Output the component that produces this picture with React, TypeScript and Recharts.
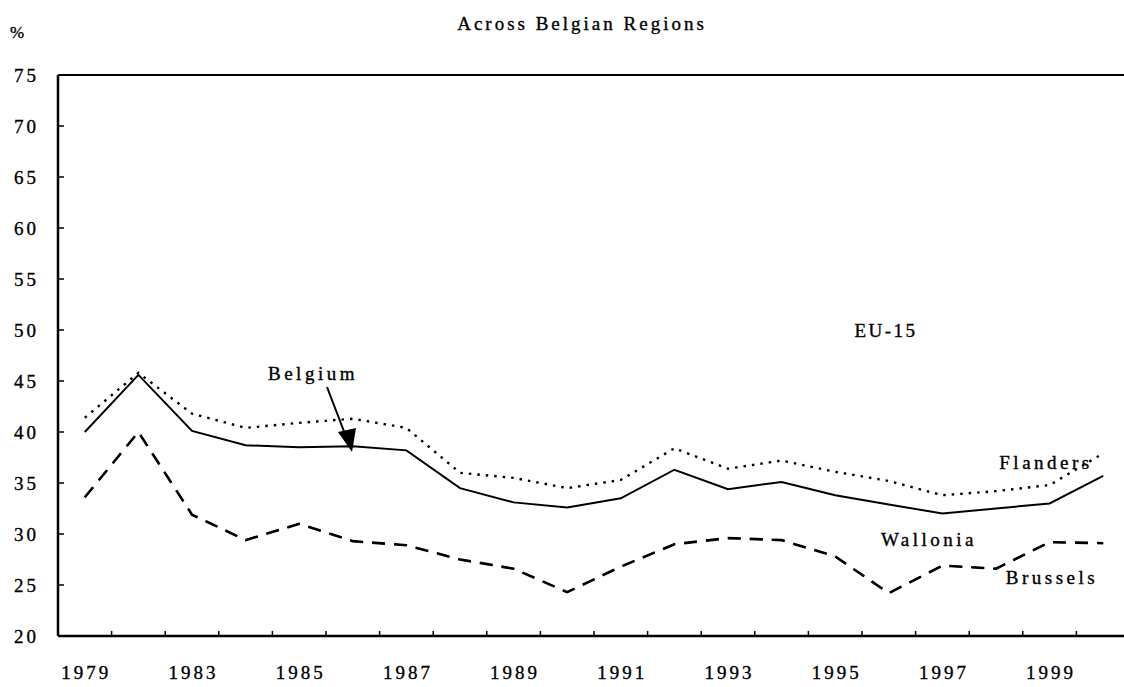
import React from 'react';
import { LineChart, Line, XAxis, YAxis, ReferenceLine } from 'recharts';

const years = ['1979', '1981', '1983', '1984', '1985', '1986', '1987', '1988', '1989', '1990', '1991', '1992', '1993', '1994', '1995', '1996', '1997', '1998', '1999', '2000'];
const xTickLabels = ['1979', '1983', '1985', '1987', '1989', '1991', '1993', '1995', '1997', '1999'];
const yTicks = [20, 25, 30, 35, 40, 45, 50, 55, 60, 65, 70, 75];

const belgium = [40.0, 45.6, 40.1, 38.7, 38.5, 38.6, 38.2, 34.5, 33.1, 32.6, 33.5, 36.3, 34.4, 35.1, 33.8, 32.9, 32.0, 32.5, 33.0, 35.7];
const flanders = [41.4, 45.8, 41.8, 40.4, 40.9, 41.3, 40.4, 36.0, 35.5, 34.5, 35.3, 38.4, 36.4, 37.2, 36.1, 35.2, 33.8, 34.2, 34.8, 37.9];
const wallonia = [33.6, 40.0, 31.9, 29.4, 31.0, 29.3, 28.9, 27.5, 26.6, 24.3, 26.8, 29.0, 29.6, 29.4, 27.8, 24.2, 26.9, 26.6, 29.2, 29.1];
const brussels = [33.6, 40.0, 31.9, 29.4, 31.0, 29.3, 28.9, 27.5, 26.6, 24.3, 26.8, 29.0, 29.6, 29.4, 27.8, 24.2, 26.9, 26.6, 29.2, 29.1];

const data = years.map((y, i) => ({
  pos: i + 0.5,
  year: y,
  belgium: belgium[i],
  flanders: flanders[i],
  wallonia: wallonia[i],
  brussels: brussels[i],
}));

const FONT = '"Liberation Serif", "Times New Roman", serif';
const CHART_W = 1160;
const CHART_H = 687;
const Y_AXIS_W = 58;
const X_AXIS_H = 51;
const MARGIN = { top: 75, right: 30, bottom: 0, left: 0 };
const PLOT_W = CHART_W - MARGIN.left - MARGIN.right - Y_AXIS_W;
const UNIT = PLOT_W / years.length;
const INK = { fill: '#000', stroke: '#000', strokeWidth: 0.35 } as const;

const XTick = (props: any) => {
  const { x, y, payload } = props;
  const idx = Math.round(payload.value);
  const label = years[idx];
  const show = idx < years.length && xTickLabels.includes(label);
  return (
    <g>
      <line x1={x} y1={y} x2={x} y2={y - 5} stroke="#000" strokeWidth={1.5} />
      {show && (
        <text x={x + UNIT / 2 + 1.5} y={y + 43} textAnchor="middle" fontFamily={FONT} fontSize={19} letterSpacing={3} {...INK}>
          {label}
        </text>
      )}
    </g>
  );
};

const YTick = (props: any) => {
  const { x, y, payload } = props;
  return (
    <g>
      <line x1={x + 22} y1={y} x2={x + 28} y2={y} stroke="#000" strokeWidth={1.5} />
      <text x={x + 3} y={y + 6.5} textAnchor="end" fontFamily={FONT} fontSize={19} letterSpacing={3} {...INK}>
        {payload.value}
      </text>
    </g>
  );
};

export default function App() {
  const textStyle = { fontFamily: FONT, ...INK } as const;
  return (
    <div style={{ position: 'absolute', left: 0, top: 0, width: 1124, height: 687, overflow: 'hidden', background: '#fff' }}>
      <LineChart width={CHART_W} height={CHART_H} data={data} margin={MARGIN}>
        <XAxis
          type="number"
          dataKey="pos"
          domain={[0, years.length]}
          ticks={Array.from({ length: years.length + 1 }, (_, i) => i)}
          interval={0}
          height={X_AXIS_H}
          tickSize={0}
          tickMargin={0}
          tickLine={false}
          axisLine={{ stroke: '#000', strokeWidth: 2.5 }}
          tick={<XTick />}
        />
        <YAxis
          type="number"
          domain={[20, 75]}
          ticks={yTicks}
          interval={0}
          width={Y_AXIS_W}
          tickSize={0}
          tickMargin={22}
          tickLine={false}
          axisLine={{ stroke: '#000', strokeWidth: 2.5 }}
          tick={<YTick />}
        />
        <ReferenceLine y={75} stroke="#000" strokeWidth={1.8} />
        <Line type="linear" dataKey="flanders" stroke="#000" strokeWidth={2.4} strokeDasharray="2.5 6" dot={false} activeDot={false} isAnimationActive={false} />
        <Line type="linear" dataKey="belgium" stroke="#000" strokeWidth={2} dot={false} activeDot={false} isAnimationActive={false} />
        <Line type="linear" dataKey="wallonia" stroke="#000" strokeWidth={2.6} strokeDasharray="13 9" dot={false} activeDot={false} isAnimationActive={false} />
        <Line type="linear" dataKey="brussels" stroke="#000" strokeWidth={1.6} strokeDasharray="13 9" dot={false} activeDot={false} isAnimationActive={false} />
      </LineChart>
      <svg width={1124} height={687} style={{ position: 'absolute', left: 0, top: 0, pointerEvents: 'none' }}>
        <text x={582} y={30} textAnchor="middle" fontSize={19} letterSpacing={3} {...textStyle}>Across Belgian Regions</text>
        <text x={17} y={38} textAnchor="middle" fontSize={17} {...textStyle}>%</text>
        <text x={313} y={380} textAnchor="middle" fontSize={19} letterSpacing={3.5} {...textStyle}>Belgium</text>
        <line x1={327} y1={387} x2={345} y2={434} stroke="#000" strokeWidth={2} />
        <polygon points="352,452 338,432 356,428" fill="#000" />
        <text x={886} y={337} textAnchor="middle" fontSize={19} letterSpacing={2.5} {...textStyle}>EU-15</text>
        <text x={1046} y={469} textAnchor="middle" fontSize={19} letterSpacing={3.5} {...textStyle}>Flanders</text>
        <text x={929} y={546} textAnchor="middle" fontSize={19} letterSpacing={3.5} {...textStyle}>Wallonia</text>
        <text x={1052} y={584} textAnchor="middle" fontSize={19} letterSpacing={3.5} {...textStyle}>Brussels</text>
      </svg>
    </div>
  );
}
